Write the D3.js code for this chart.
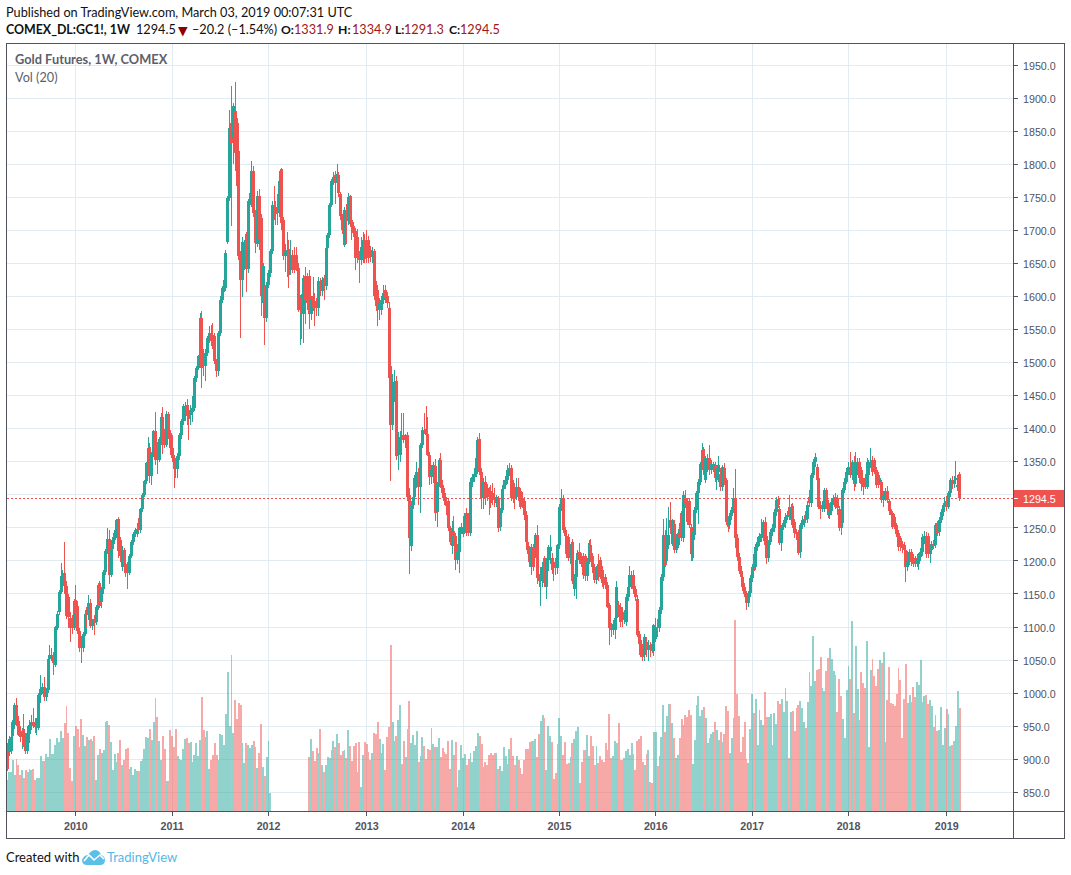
<!DOCTYPE html>
<html><head><meta charset="utf-8">
<script src="https://cdnjs.cloudflare.com/ajax/libs/d3/7.8.5/d3.min.js"></script>
<style>html,body{margin:0;padding:0;background:#fff}svg{display:block}</style>
</head><body><svg id="c" width="1071" height="875"></svg>
<script>
// weekly candles as [open, high, low, close]
const candles2009=[[922,925,882,885],[911,935,905,930],[912,937,908,933],[935,960,930,956],[952,985,945,982],[982,993,950,957],[958,966,935,937],[942,950,926,934],[935,948,915,940],[945,968,918,920],[935,940,908,912],[912,950,908,939],[938,960,925,952],[950,967,944,957],[957,977,948,950],[957,962,940,949],[949,963,936,958],[948,1000,944,997],[997,1028,985,1006],[1005,1016,998,1009],[1009,1024,988,994],[994,1008,988,1004],[1005,1055,1000,1051],[1051,1073,1045,1058],[1055,1068,1048,1058],[1058,1062,1028,1046],[1043,1102,1040,1100],[1099,1124,1095,1120],[1122,1156,1118,1153],[1153,1197,1150,1177],[1177,1186,1172,1180],[1181,1229,1150,1162],[1162,1170,1112,1116],[1145,1150,1098,1115],[1114,1122,1077,1098],[1112,1118,1090,1098],[1099,1143,1095,1140]];
const candles2010=[[1141,1164,1110,1121],[1132,1140,1089,1094],[1094,1098,1062,1068],[1082,1086,1046,1068],[1068,1093,1062,1090],[1090,1125,1086,1120],[1125,1130,1100,1118],[1118,1148,1110,1136],[1137,1142,1099,1102],[1101,1112,1096,1108],[1112,1118,1088,1106],[1107,1133,1103,1130],[1131,1165,1126,1163],[1167,1170,1128,1132],[1138,1160,1128,1157],[1157,1186,1150,1183],[1183,1218,1178,1215],[1215,1250,1210,1233],[1233,1247,1165,1178],[1178,1222,1175,1218],[1218,1236,1212,1232],[1232,1246,1225,1242],[1240,1264,1235,1262],[1263,1267,1205,1215],[1232,1236,1198,1208],[1190,1222,1185,1215],[1216,1220,1186,1190],[1192,1196,1176,1182],[1195,1199,1157,1182],[1182,1210,1178,1208],[1208,1231,1204,1228],[1228,1243,1224,1241],[1241,1250,1236,1246],[1240,1258,1236,1248],[1253,1265,1243,1247],[1246,1280,1242,1278],[1278,1302,1274,1300],[1300,1323,1296,1321],[1321,1350,1317,1348],[1348,1388,1343,1371],[1372,1378,1318,1328],[1328,1365,1315,1361],[1361,1398,1357,1396],[1396,1425,1345,1353],[1375,1380,1331,1353],[1353,1388,1349,1384],[1384,1424,1380,1418],[1417,1432,1362,1376],[1396,1400,1370,1376],[1376,1426,1372,1422],[1422,1425,1385,1394],[1394,1398,1360,1371]];
const candles2011=[[1371,1390,1350,1356],[1355,1360,1310,1339],[1348,1352,1325,1339],[1339,1363,1326,1358],[1358,1394,1352,1391],[1391,1414,1385,1411],[1411,1437,1405,1434],[1420,1440,1412,1434],[1436,1445,1405,1419],[1425,1430,1383,1414],[1420,1436,1405,1428],[1425,1450,1410,1431],[1431,1480,1426,1477],[1477,1495,1470,1492],[1492,1512,1488,1510],[1510,1575,1505,1567],[1567,1578,1462,1492],[1512,1520,1480,1494],[1494,1520,1472,1515],[1515,1540,1510,1537],[1537,1555,1530,1545],[1545,1557,1525,1532],[1542,1560,1520,1525],[1540,1545,1498,1502],[1502,1506,1478,1487],[1487,1548,1480,1545],[1545,1600,1540,1595],[1595,1615,1590,1612],[1612,1630,1606,1625],[1612,1670,1608,1666],[1683,1752,1680,1749],[1749,1882,1745,1855],[1862,1918,1706,1832],[1840,1892,1800,1888],[1880,1924,1790,1817],[1862,1870,1760,1767],[1820,1826,1655,1661],[1661,1668,1537,1625],[1625,1690,1599,1683],[1645,1685,1640,1680],[1695,1698,1606,1641],[1641,1748,1636,1744],[1744,1768,1738,1757],[1741,1805,1735,1789],[1789,1797,1720,1726],[1726,1730,1665,1681],[1680,1760,1675,1752],[1752,1762,1670,1686],[1719,1725,1570,1600],[1590,1650,1585,1646],[1610,1615,1526,1568],[1568,1622,1562,1618]];
const candles2012=[[1618,1640,1612,1635],[1635,1672,1630,1668],[1668,1745,1664,1739],[1739,1767,1715,1726],[1735,1745,1708,1725],[1732,1755,1708,1728],[1726,1790,1720,1774],[1792,1794,1700,1711],[1716,1720,1655,1661],[1661,1680,1637,1668],[1665,1698,1630,1670],[1672,1685,1613,1633],[1640,1685,1632,1660],[1662,1670,1636,1642],[1660,1675,1635,1640],[1663,1674,1638,1643],[1643,1650,1576,1580],[1580,1602,1527,1598],[1598,1603,1535,1573],[1573,1632,1530,1628],[1631,1644,1558,1595],[1631,1635,1580,1590],[1631,1640,1550,1573],[1573,1600,1565,1596],[1600,1630,1578,1583],[1593,1605,1556,1583],[1593,1598,1570,1583],[1583,1630,1570,1623],[1623,1628,1600,1608],[1608,1630,1600,1625],[1628,1632,1594,1615],[1615,1676,1610,1673],[1673,1696,1668,1693],[1693,1742,1688,1739],[1739,1778,1735,1774],[1774,1788,1768,1781],[1783,1790,1740,1772],[1772,1800,1765,1785],[1783,1788,1750,1757],[1755,1758,1715,1721],[1721,1725,1695,1700],[1678,1735,1675,1730],[1731,1740,1680,1714],[1714,1756,1708,1751],[1752,1753,1705,1709],[1716,1725,1686,1706],[1706,1712,1690,1696],[1699,1704,1640,1658],[1690,1702,1650,1662],[1662,1668,1620,1655],[1655,1690,1648,1675],[1658,1698,1650,1686],[1686,1695,1650,1656]];
const candles2013=[[1686,1700,1650,1661],[1686,1692,1650,1658],[1670,1676,1652,1660],[1660,1674,1650,1668],[1668,1672,1595,1600],[1618,1624,1578,1585],[1610,1616,1555,1580],[1580,1598,1565,1590],[1580,1600,1572,1595],[1595,1618,1588,1605],[1610,1617,1590,1598],[1600,1606,1583,1590],[1583,1592,1470,1477],[1494,1500,1321,1406],[1406,1482,1398,1464],[1464,1488,1440,1470],[1472,1480,1352,1358],[1360,1395,1337,1388],[1360,1396,1350,1388],[1388,1423,1370,1386],[1390,1423,1378,1383],[1386,1392,1370,1388],[1390,1395,1290,1297],[1300,1310,1180,1234],[1222,1290,1215,1285],[1285,1300,1278,1297],[1297,1330,1292,1325],[1320,1350,1310,1335],[1335,1340,1284,1312],[1312,1378,1272,1375],[1375,1402,1370,1398],[1398,1424,1392,1395],[1399,1434,1385,1390],[1392,1418,1358,1360],[1360,1365,1315,1327],[1330,1345,1316,1338],[1327,1350,1318,1345],[1343,1354,1261,1272],[1274,1320,1252,1317],[1317,1356,1312,1352],[1353,1363,1310,1315],[1315,1322,1295,1303],[1303,1310,1285,1290],[1290,1296,1270,1283],[1290,1294,1245,1249],[1249,1253,1224,1229],[1222,1260,1211,1245],[1245,1268,1225,1238],[1238,1242,1186,1201],[1201,1225,1195,1214],[1214,1252,1182,1249],[1249,1258,1240,1252]];
const candles2014=[[1240,1256,1236,1252],[1252,1272,1246,1268],[1272,1280,1238,1242],[1262,1272,1238,1244],[1242,1325,1238,1320],[1320,1332,1312,1327],[1327,1340,1320,1332],[1332,1358,1327,1355],[1355,1388,1350,1383],[1384,1393,1330,1335],[1335,1340,1278,1295],[1295,1325,1279,1320],[1320,1328,1285,1295],[1310,1316,1290,1300],[1305,1312,1270,1297],[1305,1315,1280,1288],[1302,1318,1285,1295],[1295,1310,1282,1292],[1287,1300,1282,1297],[1294,1298,1243,1249],[1252,1280,1245,1277],[1277,1312,1272,1308],[1308,1322,1300,1315],[1315,1328,1308,1322],[1322,1345,1316,1337],[1337,1348,1328,1340],[1341,1345,1290,1295],[1315,1322,1288,1300],[1312,1318,1279,1295],[1300,1325,1292,1312],[1312,1325,1290,1297],[1305,1310,1278,1282],[1295,1304,1280,1288],[1290,1296,1262,1270],[1270,1275,1225,1229],[1229,1234,1210,1216],[1216,1222,1190,1198],[1191,1225,1178,1221],[1221,1225,1185,1191],[1221,1242,1205,1239],[1239,1255,1165,1174],[1174,1180,1161,1170],[1170,1190,1132,1176],[1176,1198,1160,1191],[1204,1208,1160,1166],[1161,1204,1142,1201],[1201,1224,1185,1221],[1215,1239,1195,1221],[1204,1212,1180,1186],[1199,1204,1169,1189],[1195,1204,1178,1189],[1189,1226,1180,1224]];
const candles2015=[[1224,1286,1218,1282],[1282,1309,1276,1295],[1295,1300,1242,1247],[1247,1252,1230,1237],[1237,1240,1204,1210],[1236,1240,1200,1204],[1204,1225,1195,1215],[1229,1233,1165,1169],[1158,1180,1147,1176],[1176,1205,1143,1201],[1201,1216,1180,1212],[1214,1227,1195,1201],[1207,1212,1190,1195],[1207,1212,1172,1179],[1207,1210,1170,1177],[1177,1204,1170,1199],[1199,1232,1195,1227],[1224,1233,1200,1207],[1207,1212,1182,1190],[1190,1195,1166,1171],[1171,1193,1165,1189],[1195,1210,1170,1180],[1201,1206,1172,1176],[1186,1192,1160,1166],[1176,1180,1158,1165],[1176,1180,1158,1163],[1163,1168,1128,1131],[1133,1137,1073,1098],[1100,1106,1085,1095],[1095,1110,1088,1104],[1095,1118,1082,1113],[1113,1169,1108,1161],[1134,1140,1115,1121],[1131,1136,1100,1108],[1123,1130,1100,1111],[1111,1125,1105,1115],[1108,1150,1102,1146],[1146,1166,1140,1161],[1161,1192,1155,1179],[1175,1185,1158,1178],[1179,1186,1150,1158],[1158,1162,1140,1145],[1143,1148,1085,1088],[1090,1094,1070,1075],[1080,1090,1055,1058],[1060,1075,1048,1055],[1058,1090,1048,1085],[1078,1085,1055,1065],[1065,1080,1048,1072],[1073,1078,1055,1065],[1075,1084,1060,1063],[1063,1105,1056,1103]];
const candles2016=[[1082,1113,1078,1100],[1100,1112,1085,1098],[1098,1130,1092,1126],[1126,1180,1120,1176],[1176,1264,1170,1239],[1239,1246,1190,1194],[1200,1265,1196,1224],[1224,1281,1218,1239],[1262,1289,1240,1249],[1226,1264,1222,1262],[1256,1262,1212,1216],[1216,1240,1212,1231],[1224,1248,1220,1242],[1242,1257,1228,1235],[1272,1276,1230,1234],[1234,1305,1228,1300],[1295,1307,1280,1287],[1289,1294,1255,1259],[1290,1295,1250,1254],[1252,1256,1200,1211],[1205,1243,1200,1239],[1239,1282,1232,1277],[1277,1305,1272,1302],[1302,1324,1256,1320],[1320,1350,1315,1347],[1347,1378,1342,1368],[1369,1372,1330,1337],[1322,1358,1318,1355],[1340,1362,1335,1355],[1355,1375,1330,1337],[1337,1352,1332,1347],[1345,1350,1335,1347],[1345,1350,1320,1325],[1323,1340,1307,1335],[1335,1359,1320,1345],[1332,1340,1306,1312],[1312,1345,1306,1342],[1341,1348,1315,1322],[1322,1326,1255,1259],[1259,1263,1244,1252],[1254,1272,1248,1268],[1268,1282,1262,1277],[1277,1310,1272,1295],[1295,1339,1220,1234],[1234,1240,1200,1206],[1206,1212,1180,1184],[1184,1192,1170,1175],[1175,1182,1155,1161],[1161,1166,1145,1150],[1150,1155,1126,1136],[1136,1155,1130,1151],[1151,1178,1146,1174]];
const candles2017=[[1174,1196,1168,1191],[1211,1216,1185,1191],[1191,1225,1186,1221],[1221,1236,1215,1228],[1228,1242,1222,1237],[1234,1263,1228,1240],[1234,1262,1230,1259],[1259,1266,1220,1224],[1237,1241,1196,1205],[1205,1232,1198,1229],[1229,1248,1224,1244],[1244,1256,1238,1249],[1249,1278,1244,1274],[1274,1296,1268,1292],[1294,1298,1280,1284],[1279,1283,1224,1227],[1227,1255,1215,1252],[1252,1262,1246,1257],[1257,1272,1250,1267],[1267,1276,1262,1270],[1282,1300,1262,1269],[1262,1286,1255,1282],[1283,1288,1250,1254],[1259,1264,1235,1242],[1243,1248,1232,1240],[1241,1246,1209,1212],[1214,1258,1205,1254],[1254,1268,1248,1262],[1258,1270,1252,1264],[1270,1276,1258,1262],[1264,1290,1258,1284],[1296,1307,1282,1288],[1287,1333,1282,1330],[1330,1354,1326,1350],[1350,1363,1342,1357],[1342,1346,1318,1322],[1325,1330,1278,1282],[1284,1290,1263,1279],[1279,1290,1274,1280],[1279,1310,1274,1307],[1307,1310,1278,1282],[1287,1292,1265,1269],[1269,1283,1264,1275],[1275,1295,1270,1289],[1289,1300,1285,1295],[1296,1302,1278,1282],[1295,1300,1270,1280],[1279,1283,1245,1249],[1265,1270,1239,1249],[1257,1310,1252,1307],[1307,1325,1302,1320],[1320,1340,1316,1335]];
const candles2018=[[1335,1350,1330,1342],[1337,1365,1325,1330],[1330,1352,1322,1350],[1350,1358,1305,1317],[1317,1364,1312,1350],[1345,1356,1330,1350],[1350,1356,1318,1325],[1337,1342,1305,1317],[1320,1326,1300,1312],[1325,1332,1308,1312],[1312,1355,1308,1350],[1330,1352,1325,1347],[1347,1370,1340,1350],[1352,1358,1328,1335],[1352,1356,1332,1337],[1337,1342,1310,1315],[1330,1335,1310,1315],[1315,1326,1300,1322],[1320,1323,1288,1292],[1292,1305,1282,1299],[1295,1310,1290,1305],[1305,1314,1288,1292],[1290,1294,1270,1275],[1275,1279,1262,1270],[1272,1276,1248,1252],[1267,1271,1248,1252],[1254,1258,1236,1240],[1242,1246,1215,1221],[1234,1238,1215,1221],[1225,1230,1212,1220],[1224,1228,1210,1216],[1216,1220,1168,1190],[1190,1215,1185,1200],[1200,1218,1194,1214],[1214,1218,1192,1199],[1204,1210,1190,1196],[1204,1208,1190,1196],[1196,1210,1190,1203],[1196,1212,1186,1206],[1206,1220,1200,1214],[1214,1240,1208,1236],[1230,1245,1225,1237],[1238,1244,1205,1210],[1238,1242,1205,1210],[1210,1226,1197,1222],[1216,1230,1212,1225],[1225,1232,1218,1222],[1224,1258,1220,1254],[1257,1260,1238,1242],[1244,1266,1238,1262],[1262,1278,1258,1274],[1274,1288,1268,1284],[1284,1296,1280,1287]];
const candles2019=[[1290,1298,1276,1281],[1281,1305,1278,1302],[1302,1325,1296,1322],[1322,1328,1308,1316],[1316,1328,1310,1322],[1322,1351,1318,1325],[1312,1330,1306,1314.7],[1331.9,1334.9,1291.3,1294.5]];
// weekly volume, thousands of contracts; the feed has a hole early in 2012
const volumeBeforeGap=[31,39,39,51,36,52,46,36,41,33,41,39,42,41,42,31,33,33,55,50,50,57,54,72,57,57,66,73,69,80,73,88,105,78,43,30,75,85,82,64,92,76,65,74,71,72,70,75,31,56,62,58,61,89,90,86,69,41,57,49,58,71,46,51,62,63,42,44,36,42,40,40,50,52,62,74,73,82,71,89,113,94,70,51,75,62,30,30,81,75,64,82,55,52,51,62,72,73,68,69,49,56,68,55,71,114,81,74,80,42,51,56,68,56,51,77,76,66,97,139,85,156,78,111,92,108,106,68,48,68,66,63,66,70,64,43,58,87,44,35,54,70,18];
const volumeGapWeeks=20;
const volumeMiddle=[54,72,60,50,63,58,82,46,39,46,54,53,61,70,64,77,68,56,60,61,53,81,65,50,65,68,39,69,24,56,69,67,59,51,58,78,77,89,72,58,67,41,74,84,166,89,70,75,91,106,47,70,54,82,110,68,76,66,80,49,55,74,65,52,62,61,83,67,64,64,73,54,63,59,57,70,42,71,56,69,24,41,66,53,57,46,52,58,49,60,65,78,75,67,44,49,46,56,58,56,58,58,42,45,40,64,55,47,62,73,55,46,55,51,43,37,51,62,62,69,70,70,72,54,77,90,96,93,41,85,75,69,32,38,67,93,75,56,69,47,48,54,68,72,80,84,28,49,61,61,76,55,75,65,46,65,48,55,51,49,68,61,97,53,55,70,68,88,51,51,53,60,62,56,68,57,41,70,72,75,49,46,57];
const volumeLate=[61,29,28,79,79,45,55,74,106,79,95,107,107,88,73,53,56,73,92,86,96,94,101,96,47,71,106,115,95,101,104,93,68,73,77,79,89,81,71,79,69,77,105,100,58,73,93,191,117,95,59,74,89,52,48,82,117,98,112,66,101,91,86,119,94,94,97,66,98,87,110,107,112,99,123,110,53,99,100,80,103,106,110,103,89,83,109,139,125,175,130,141,142,154,123,120,140,153,163,152,140,136,99,132,115,92,73,121,145,132,190,98,165,122,91,139,128,123,170,64,141,152,135,125,142,151,148,159,69,111,144,108,107,105,117,143,131,73,112,147,108,116,109,124,114,129,126,151,109,115,116,107,111,105,84,96,80,81,104,66,83,102,97,65,66,70,85,120,103];
const priceTicks=[1950,1900,1850,1800,1750,1700,1650,1600,1550,1500,1450,1400,1350,1300,1250,1200,1150,1100,1050,1000,950,900,850];
const yearLabels=["2010","2011","2012","2013","2014","2015","2016","2017","2018","2019"];
const yearBarIndex=[37,89,141,194,246,298,350,402,454,507];
const lastPrice=1294.5;

const candles=[].concat(candles2009,candles2010,candles2011,candles2012,candles2013,candles2014,candles2015,candles2016,candles2017,candles2018,candles2019);
const volumes=[].concat(volumeBeforeGap,new Array(volumeGapWeeks).fill(null),volumeMiddle,volumeLate);

const UP="#26a69a",DOWN="#ef5350",AXIS="#50535e",GRID="#e1ecf2",TXT="#50535e";
const svg=d3.select("#c");
const x=d3.scaleLinear().domain([0,candles.length-1]).range([7.3,959.7]);
const y=d3.scaleLinear().domain([850,1950]).range([792.3,65]);
const yVol=d3.scaleLinear().domain([0,200]).range([811,611]);
const snap=v=>Math.floor(v)+.5;
const isUp=d=>d[3]>=d[0];
const F="'Liberation Sans',Arial,sans-serif",H="Lato,'Noto Sans',sans-serif";
const visibleTicks=priceTicks.filter(p=>Math.abs(y(p)-y(lastPrice))>12);

// grid
svg.append("g").selectAll("line").data(priceTicks).join("line")
 .attr("x1",7).attr("x2",1013).attr("y1",d=>snap(y(d))).attr("y2",d=>snap(y(d))).attr("stroke",GRID);
svg.append("g").selectAll("line").data(yearBarIndex).join("line")
 .attr("x1",d=>snap(x(d))).attr("x2",d=>snap(x(d))).attr("y1",44).attr("y2",811).attr("stroke",GRID);

// volume
svg.append("g").attr("shape-rendering","crispEdges").selectAll("rect").data(volumes.map((v,i)=>({v,i})).filter(d=>d.v!=null)).join("rect")
 .attr("x",d=>Math.round(x(d.i)-1))
 .attr("width",d=>Math.max(1,Math.round(x(d.i+1)-1)-Math.round(x(d.i)-1)))
 .attr("y",d=>yVol(d.v)).attr("height",d=>yVol(0)-yVol(d.v))
 .attr("fill",d=>isUp(candles[d.i])?UP:DOWN).attr("fill-opacity",.5);

// last price line
svg.append("line").attr("x1",7).attr("x2",1013).attr("y1",snap(y(lastPrice))).attr("y2",snap(y(lastPrice)))
 .attr("stroke",DOWN).attr("stroke-dasharray","2 2");

// candles
const cg=svg.append("g").attr("shape-rendering","crispEdges").selectAll("g").data(candles).join("g");
cg.append("line").attr("x1",(d,i)=>snap(x(i))).attr("x2",(d,i)=>snap(x(i)))
 .attr("y1",d=>y(d[1])).attr("y2",d=>y(d[2])).attr("stroke",d=>isUp(d)?UP:DOWN);
cg.append("rect").attr("x",(d,i)=>Math.floor(x(i))-1).attr("width",3)
 .attr("y",d=>y(Math.max(d[0],d[3]))).attr("height",d=>Math.max(1,Math.abs(y(d[0])-y(d[3]))))
 .attr("fill",d=>isUp(d)?UP:DOWN);

// frame
const fr=svg.append("g").attr("stroke",AXIS).attr("fill","none");
fr.append("rect").attr("x",6.5).attr("y",43.5).attr("width",1058).attr("height",795);
fr.append("line").attr("x1",1013.5).attr("x2",1013.5).attr("y1",44).attr("y2",838);
fr.append("line").attr("x1",7).attr("x2",1064).attr("y1",811.5).attr("y2",811.5);

// right axis
svg.append("g").selectAll("line").data(visibleTicks).join("line").attr("x1",1014).attr("x2",1018)
 .attr("y1",d=>snap(y(d))).attr("y2",d=>snap(y(d))).attr("stroke",AXIS);
svg.append("g").selectAll("text").data(visibleTicks).join("text").attr("x",1023).attr("y",d=>y(d)+4.7)
 .attr("font-family",F).attr("font-size",10.7).attr("fill",TXT).text(d=>d.toFixed(1));

// bottom axis
svg.append("g").selectAll("line").data(yearBarIndex).join("line").attr("x1",d=>snap(x(d))).attr("x2",d=>snap(x(d)))
 .attr("y1",812).attr("y2",816).attr("stroke",AXIS);
svg.append("g").selectAll("text").data(yearBarIndex).join("text").attr("x",d=>x(d)).attr("y",830)
 .attr("text-anchor","middle").attr("font-family",F).attr("font-size",10.7).attr("font-weight","bold").attr("fill",TXT)
 .text((d,i)=>yearLabels[i]);

// last price tag
svg.append("rect").attr("x",1014).attr("y",490).attr("width",50).attr("height",17).attr("fill",DOWN);
svg.append("line").attr("x1",1014).attr("x2",1018).attr("y1",snap(y(lastPrice))).attr("y2",snap(y(lastPrice))).attr("stroke","#fff");
svg.append("text").attr("x",1023).attr("y",502.5).attr("font-family",F).attr("font-size",10.7).attr("fill","#fff").text(lastPrice.toFixed(1));

// header
const t=(xx,yy,s,o={})=>svg.append("text").attr("x",xx).attr("y",yy).attr("font-family",o.f||H).attr("font-size",o.s||12.7).attr("font-weight",o.w||"normal").attr("fill",o.c||"#111").text(s);
t(6,17,"Published on TradingView.com, March 03, 2019 00:07:31 UTC");
const RED="#a31515";
t(6,34,"COMEX_DL:GC1!, 1W",{w:"bold",s:12.4});
t(136,34,"1294.5");
t(178,34.5,"▼",{f:"'DejaVu Sans'",s:12.5,c:"#8b0000"});
t(192,34,"–20.2 (–1.54%)");
t(281,34,"O:",{w:"bold",s:12.2});t(294,34,"1331.9",{c:RED});
t(338,34,"H:",{w:"bold",s:12.2});t(352,34,"1334.9",{c:RED});
t(395,34,"L:",{w:"bold",s:12.2});t(404,34,"1291.3",{c:RED});
t(449,34,"C:",{w:"bold",s:12.2});t(460,34,"1294.5",{c:RED});
t(15,64,"Gold Futures, 1W, COMEX",{w:"bold",c:"#5d606b",s:12.8});
t(15,82,"Vol (20)",{c:"#5d606b"});

// footer
t(6,862,"Created with",{s:13});
svg.append("path").attr("fill","#5bbfe8").attr("d","M82 860 Q84 855 88 855 Q91 850 96 850 Q100 851 101 855 Q105 856 105 860 Q105 865 100 865 L87 865 Q82 865 82 860 Z");
svg.append("polyline").attr("points","84,861 89,855 94,860 100,855 104,859").attr("fill","none").attr("stroke","#fff").attr("stroke-width",1.6);
t(107,862,"TradingView",{c:"#53b8e6",s:13});
</script></body></html>
